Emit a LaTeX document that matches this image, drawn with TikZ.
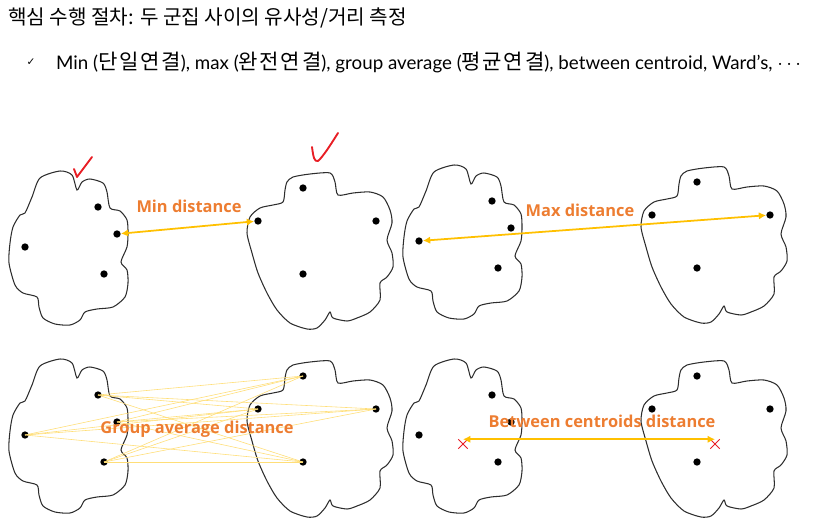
\documentclass[tikz,border=0pt]{standalone}
\usepackage{fontspec}
\setmainfont{Lato}
\newfontfamily\korfont{Noto Sans CJK KR}
\newfontfamily\korwide{Noto Sans CJK KR}[LetterSpace=8]
\newfontfamily\labfont{Open Sans}
\newfontfamily\symfont{DejaVu Sans}
\usepackage{tikz}
\usetikzlibrary{arrows.meta,shapes.misc}
\definecolor{DistOrange}{RGB}{237,125,49}
\definecolor{DistYellow}{RGB}{255,192,0}
\definecolor{PairYellow}{RGB}{255,222,120}
\definecolor{MarkRed}{RGB}{232,30,37}
\definecolor{OutlineGray}{RGB}{45,45,45}
\newcommand{\kor}[1]{{\korwide\fontsize{18}{19}\selectfont #1}}

\tikzset{
  clusterA/.pic={
    \draw[blobline] plot[smooth cycle,tension=0.45] coordinates {
      (40,178) (60,171) (72,175) (77,190) (82,182) (90,179) (103,183)
      (107,192) (110,208) (120,211) (127,220) (128,233) (127,247)
      (121,262) (127,270) (128,283) (125,297) (113,307) (97,309)
      (85,312) (80,320) (70,325) (55,324) (43,318) (39,307) (37,297)
      (23,293) (15,285) (9,263) (10,243) (13,227) (20,215) (25,213)
      (32,197)};
    \node[member] (-m1) at (98,207) {};
    \node[member] (-m2) at (117,234) {};
    \node[member] (-m3) at (25,247) {};
    \node[member] (-m4) at (104,274) {};
  },
  clusterB/.pic={
    \draw[blobline] plot[smooth cycle,tension=0.45] coordinates {
      (287,182) (293,177) (310,174) (330,173) (335,182) (338,195)
      (353,193) (370,192) (383,197) (390,210) (392,223) (387,240)
      (392,253) (393,267) (387,277) (380,283) (380,300) (370,312)
      (357,318) (347,321) (333,318) (330,312) (325,320) (317,328)
      (307,329) (290,323) (277,310) (267,293) (258,273) (252,253)
      (247,233) (250,217) (260,208) (273,205) (283,202) (285,190)};
    \node[member] (-m1) at (303,188) {};
    \node[member] (-m2) at (258,221) {};
    \node[member] (-m3) at (376,221) {};
    \node[member] (-m4) at (303,274) {};
  },
}

\begin{document}
\begin{tikzpicture}[x=0.3mm,y=-0.3mm,
  blobline/.style={draw=OutlineGray,line width=0.9pt},
  member/.style={circle,fill=black,inner sep=0pt,minimum size=2.2mm},
  distarrow/.style={draw=DistYellow,line width=1.5pt,{Latex[length=2.2mm,width=2.2mm]}-{Latex[length=2.2mm,width=2.2mm]}},
  pairline/.style={draw=PairYellow,line width=0.5pt},
  distlabel/.style={font=\labfont\bfseries\fontsize{14}{16}\selectfont,text=DistOrange,inner sep=1pt},
  checkmark/.style={draw=MarkRed,line width=1.6pt,line cap=round,line join=round},
  centroid/.style={cross out,draw=MarkRed,line width=0.7pt,minimum size=2.6mm,inner sep=0pt}]
  \useasboundingbox (0,0) rectangle (823,522);

  \node[anchor=west,font=\korfont\fontsize{17.2}{20}\selectfont] (title) at (4,18)
    {핵심 수행 절차: 두 군집 사이의 유사성/거리 측정};
  \node[font=\symfont\fontsize{9}{10}\selectfont] (tick) at (31,62) {✓};
  \node[anchor=west,font=\fontsize{16}{18}\selectfont] (items) at (52,62)
    {Min (\kor{단일연결}), max (\kor{완전연결}), group average (\kor{평균연결}), between centroid, Ward’s, $\cdots$};

  % min
  \pic (minL) at (0,0) {clusterA};
  \pic (minR) at (0,0) {clusterB};
  \draw[distarrow] (minL-m2) -- (minR-m2);
  \node[distlabel] (minlab) at (189,206) {Min distance};
  \draw[checkmark] (74,169) -- (77,177) -- (92,157);
  \draw[checkmark] plot[smooth] coordinates {(312,147) (314,158) (318,161) (327,150) (338,133)};

  % max
  \pic (maxL) at (394,-6) {clusterA};
  \pic (maxR) at (394,-6) {clusterB};
  \draw[distarrow] (maxL-m3) -- (maxR-m3);
  \node[distlabel] (maxlab) at (580,210) {Max distance};

  % group average
  \pic (avgL) at (0,188) {clusterA};
  \pic (avgR) at (0,188) {clusterB};
  \foreach \i in {1,...,4}
    \foreach \j in {1,...,4}
      \draw[pairline] (avgL-m\i.center) -- (avgR-m\j.center);
  \node[distlabel] (avglab) at (197,429) {Group average distance};

  % centroids
  \pic (cenL) at (394,188) {clusterA};
  \pic (cenR) at (394,188) {clusterB};
  \node[centroid] (cenA) at (463,444) {};
  \node[centroid] (cenB) at (715,444) {};
  \draw[distarrow] (cenA.north) -- (cenB.north);
  \node[distlabel] (cenlab) at (602,421) {Between centroids distance};
\end{tikzpicture}
\end{document}
